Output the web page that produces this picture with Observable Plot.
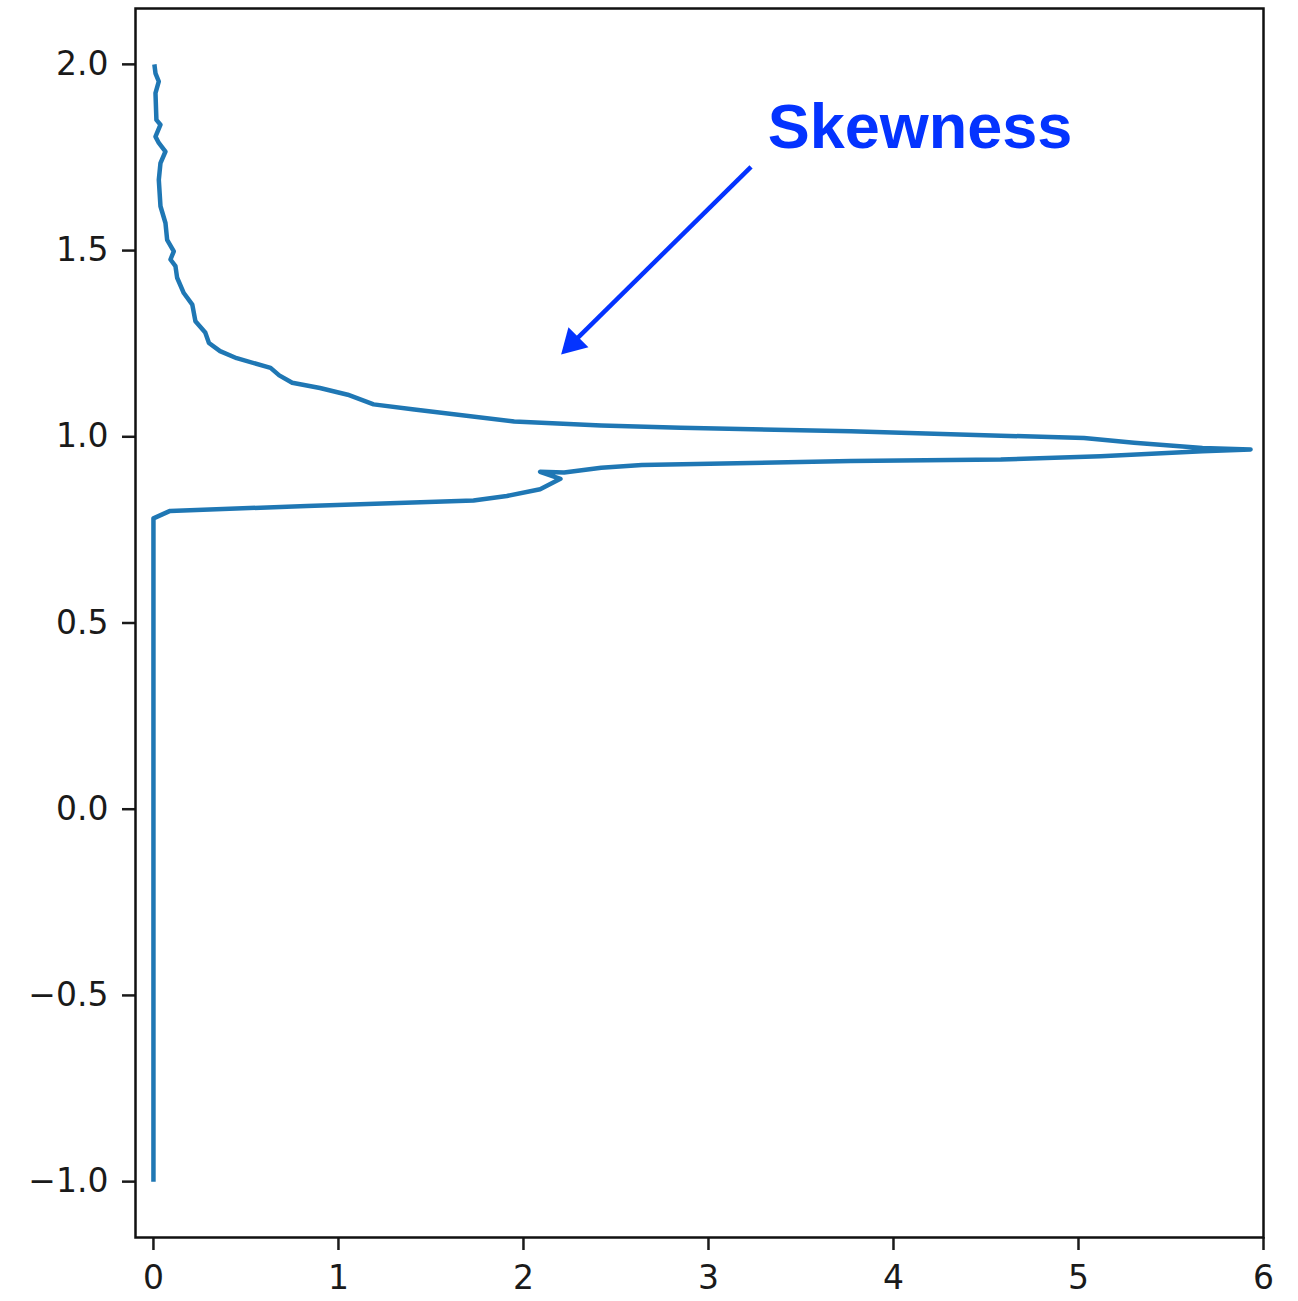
<!DOCTYPE html>
<html>
<head>
<meta charset="utf-8">
<script src="https://cdn.jsdelivr.net/npm/d3@7"></script>
<script src="https://cdn.jsdelivr.net/npm/@observablehq/plot@0.6"></script>
<style>
  html, body { margin: 0; padding: 0; background: #fff; }
  #chart svg { display: block; }
</style>
</head>
<body>
<div id="chart"></div>
<script>
// Curve values (in drawing order)
const skewX = [0, 0, 0.09, 0.83, 1.73, 1.91, 2.09, 2.20, 2.09, 2.22, 2.42, 2.64, 3.77, 4.58, 5.12, 5.67, 5.93,
  5.67, 5.30, 5.03, 4.58, 3.77, 2.85, 2.42, 1.95, 1.41, 1.19, 1.05, 0.90, 0.75, 0.68, 0.633, 0.45, 0.36, 0.30,
  0.28, 0.227, 0.21, 0.164, 0.128, 0.119, 0.092, 0.11, 0.074, 0.065, 0.038, 0.029, 0.038, 0.065, 0.029, 0.011,
  0.038, 0.016, 0.011, 0.029, 0.011, 0.005];
const skewY = [-1.0, 0.781, 0.801, 0.814, 0.829, 0.841, 0.859, 0.887, 0.906, 0.904, 0.917, 0.924, 0.935, 0.939, 0.948, 0.961, 0.966,
  0.970, 0.984, 0.997, 1.003, 1.015, 1.024, 1.030, 1.041, 1.073, 1.087, 1.113, 1.131, 1.145, 1.165, 1.185, 1.211, 1.230, 1.252,
  1.280, 1.310, 1.355, 1.386, 1.427, 1.458, 1.476, 1.498, 1.529, 1.574, 1.619, 1.690, 1.735, 1.766, 1.789, 1.806,
  1.838, 1.851, 1.923, 1.954, 1.976, 2.0];

const xTicks = [0, 1, 2, 3, 4, 5, 6];
const yTicks = [-1.0, -0.5, 0.0, 0.5, 1.0, 1.5, 2.0];

// Annotation
const annoLabel = ["Skewness"];
const annoTextX = [3.32];
const annoTextY = [1.83];
const arrowFrom = [{x: 3.23, y: 1.725}];
const arrowHead = [{x: 2.266, y: 1.252}];

const curve = skewX.map((x, i) => ({x, y: skewY[i]}));
const arrowLink = [{x1: arrowFrom[0].x, y1: arrowFrom[0].y, x2: arrowHead[0].x, y2: arrowHead[0].y}];
const headAngle = 225;

const blue = "#0433ff";
const plot = Plot.plot({
  width: 1298,
  height: 1301,
  marginLeft: 135,
  marginRight: 35,
  marginTop: 8,
  marginBottom: 64,
  style: {background: "#fff", fontFamily: "'DejaVu Sans', sans-serif", color: "#1a1a1a"},
  x: {domain: [-0.097, 6]},
  y: {domain: [-1.15, 2.15]},
  marks: [
    Plot.line(curve, {x: "x", y: "y", stroke: "#1f77b4", strokeWidth: 4.5, strokeLinejoin: "round", strokeLinecap: "butt"}),
    Plot.link(arrowLink, {x1: "x1", y1: "y1", x2: "x2", y2: "y2", stroke: blue, strokeWidth: 4.5}),
    Plot.dot(arrowHead, {x: "x", y: "y", symbol: "triangle", r: 10.5, fill: blue, stroke: "none", rotate: headAngle}),
    Plot.text(annoLabel.map((t, i) => ({t, x: annoTextX[i], y: annoTextY[i]})), {
      x: "x", y: "y", text: "t", textAnchor: "start", fill: blue,
      fontSize: 63, fontWeight: "bold", fontFamily: "'Liberation Sans', Arial, sans-serif"
    }),
    Plot.axisX({ticks: xTicks, tickFormat: d3.format("d"), tickSize: 13, tickPadding: 15, strokeWidth: 2.5, fontSize: 33, label: null}),
    Plot.axisY({ticks: yTicks, tickFormat: d3.format(".1f"), tickSize: 13, tickPadding: 14, strokeWidth: 2.5, fontSize: 33, label: null}),
    Plot.frame({stroke: "#111", strokeWidth: 2.5})
  ]
});
document.getElementById("chart").appendChild(plot);
</script>
</body>
</html>
